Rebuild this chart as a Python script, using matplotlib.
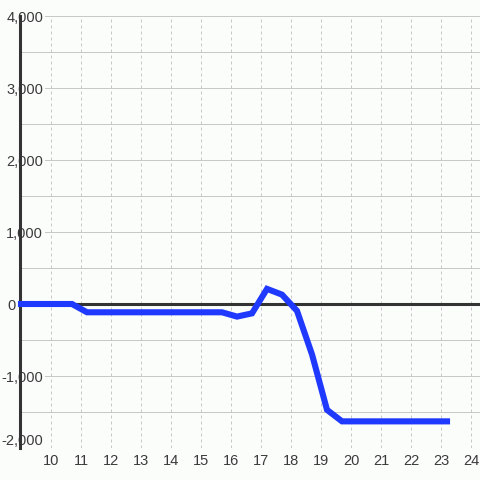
import numpy as np
import matplotlib
matplotlib.use("Agg")
import matplotlib.pyplot as plt
import matplotlib.transforms as mtransforms

# hour of day vs. value
hours = [9.0, 9.2, 9.7, 10.2, 10.7, 11.2, 11.7, 12.2, 12.7, 13.2, 13.7, 14.2, 14.7,
         15.2, 15.7, 16.2, 16.7, 17.2, 17.7, 18.2, 18.7, 19.2, 19.7, 20.2, 20.7,
         21.2, 21.7, 22.2, 22.7, 23.2]
values = [0, 0, 0, 0, 0, -115, -115, -115, -115, -115, -115, -115, -115,
          -115, -115, -175, -130, 210, 130, -95, -700, -1470, -1630, -1630, -1630,
          -1630, -1630, -1630, -1630, -1630]

y_ticks = [-2000, -1000, 0, 1000, 2000, 3000, 4000]
y_minor = [-1500, -500, 500, 1500, 2500, 3500]
x_ticks = list(range(10, 25))

bg = "#fbfdfb"
text_col = "#3a3a3a"
plt.rcParams["font.family"] = ["Liberation Sans", "DejaVu Sans"]

fig = plt.figure(figsize=(4.8, 4.8), dpi=100, facecolor=bg)
ax = fig.add_axes([20 / 480, 32 / 480, 460 / 480, 432 / 480], facecolor=bg)

ax.set_xlim(10 - 31 / 30, 24.3)
ax.set_ylim(-2000, 4000)

ax.set_xticks(x_ticks)
ax.set_yticks(y_ticks)
ax.set_yticks(y_minor, minor=True)
ax.set_yticklabels([f"{v:,}" for v in y_ticks])

ax.set_axisbelow(True)
ax.grid(axis="y", which="both", color="#c8c8c8", lw=0.72, linestyle="-")
ax.grid(axis="x", which="major", color="#c8c8c8", lw=0.72, linestyle=(0, (3, 3)))

for side in ["top", "right", "bottom"]:
    ax.spines[side].set_visible(False)
ax.spines["left"].set_color("#333333")
ax.spines["left"].set_linewidth(2.2)

ax.tick_params(axis="y", which="both", length=0, pad=-16.6, labelsize=10.5, labelcolor=text_col)
ax.tick_params(axis="x", length=0, pad=4, labelsize=10.5, labelcolor=text_col)

yt = ax.yaxis.get_major_ticks()
for tick in yt:
    tick.label1.set_bbox(dict(facecolor=bg, edgecolor="none", pad=1.5))
yt[0].label1.set_va("bottom")
# the zero label sits at the far left
zero_lab = yt[y_ticks.index(0)].label1
zero_lab.set_ha("left")
zero_lab.set_transform(zero_lab.get_transform()
                       + mtransforms.ScaledTranslation(-0.36, 0, fig.dpi_scale_trans))

ax.axhline(0, color="#333333", lw=2.2, zorder=2)
ax.plot(hours, values, color="#2039ff", lw=4.4, solid_capstyle="projecting",
        solid_joinstyle="miter", zorder=3, clip_on=False)

fig.savefig("out.png", dpi=100, facecolor=bg)
